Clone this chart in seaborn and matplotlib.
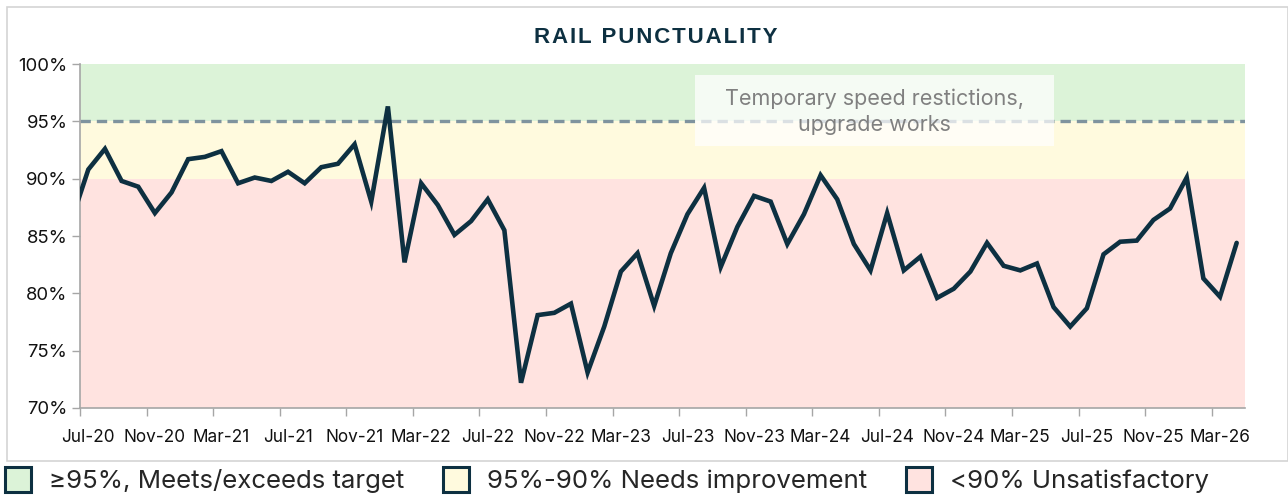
import numpy as np
import pandas as pd
import matplotlib
matplotlib.use("Agg")
import matplotlib.pyplot as plt
from matplotlib.patches import Patch, Rectangle
import seaborn as sns

# monthly punctuality (%), Jun-20 .. Apr-26 (Jun-20 sits left of the axis and is clipped)
start_month = "2020-06"
punctuality = [
    86.4,                                                    # Jun-20
    90.8, 92.6, 89.8, 89.3, 87.0, 88.8,                      # Jul-Dec 20
    91.7, 91.9, 92.4, 89.6, 90.1, 89.8, 90.6, 89.6, 91.0, 91.3, 93.0, 88.0,  # 2021
    96.3, 82.7, 89.6, 87.7, 85.1, 86.3, 88.2, 85.5, 72.2, 78.1, 78.3, 79.1,  # 2022
    73.1, 77.1, 81.9, 83.5, 78.9, 83.5, 86.9, 89.2, 82.3, 85.8, 88.5, 88.0,  # 2023
    84.3, 86.9, 90.3, 88.2, 84.3, 82.0, 87.0, 82.0, 83.2, 79.6, 80.4, 81.9,  # 2024
    84.4, 82.4, 82.0, 82.6, 78.8, 77.1, 78.7, 83.4, 84.5, 84.6, 86.4, 87.4,  # 2025
    90.1, 81.3, 79.7, 84.4,                                  # Jan-Apr 26
]
tick_labels = ["Jul-20", "Nov-20", "Mar-21", "Jul-21", "Nov-21", "Mar-22", "Jul-22",
               "Nov-22", "Mar-23", "Jul-23", "Nov-23", "Mar-24", "Jul-24", "Nov-24",
               "Mar-25", "Jul-25", "Nov-25", "Mar-26"]
target = 95
bands = [(95, 100, "#dcf3d8", "\u226595%, Meets/exceeds target"),
         (90, 95, "#fffade", "95%-90% Needs improvement"),
         (70, 90, "#ffe3e0", "<90% Unsatisfactory")]
note = "Temporary speed restictions,\nupgrade works"

NAVY = "#0d3041"
GREY = "#a6a6a6"

sns.set_theme(style="white")
plt.rcParams["font.family"] = ["Inter", "DejaVu Sans"]

months = pd.period_range(start_month, periods=len(punctuality), freq="M")
first = pd.Period("2020-07", freq="M")
df = pd.DataFrame({
    "pos": [(m - first).n + 0.5 for m in months],   # data sits mid-month
    "value": punctuality,
})

fig = plt.figure(figsize=(12.88, 4.97), dpi=100)
ax = fig.add_axes([0.0621, 0.1791, 0.9045, 0.6921])

for lo, hi, col, _ in bands:
    ax.axhspan(lo, hi, color=col, lw=0, zorder=0)

ax.axhline(target, color="#7f939e", lw=2.4, ls=(0, (3.1, 1.8)), zorder=1)

sns.lineplot(data=df, x="pos", y="value", ax=ax, color=NAVY, lw=3.3, zorder=3,
             solid_joinstyle="miter")

# annotation box (semi-transparent white over the bands and target line)
ax.add_patch(Rectangle((0.528, 0.762), 0.308, 0.206, transform=ax.transAxes,
                       facecolor="white", alpha=0.72, lw=0, zorder=4))
ax.text(0.682, 0.862, note, transform=ax.transAxes, ha="center", va="center",
        fontsize=15.5, color="#808080", linespacing=1.4, zorder=5)

ax.set_xlim(0, 70)
ax.set_ylim(70, 100)
ax.set_yticks(np.arange(70, 101, 5))
ax.set_yticklabels([f"{v}%" for v in range(70, 101, 5)])
ax.set_xticks(np.arange(0, 70, 4))
ax.set_xticklabels([])
ax.set_xticks(np.arange(0, 70, 4) + 0.5, minor=True)
ax.set_xticklabels(tick_labels, minor=True)
ax.tick_params(axis="x", which="major", length=6, width=1, color=GREY, direction="out")
ax.tick_params(axis="x", which="minor", length=0, pad=15, labelsize=12.4, labelcolor="#111111")
ax.tick_params(axis="y", length=6, width=1, color=GREY, direction="out",
               labelsize=13.3, labelcolor="#111111", pad=3)
ax.xaxis.set_ticks_position("bottom")
ax.yaxis.set_ticks_position("left")
ax.set_xlabel("")
ax.set_ylabel("")
for side in ["top", "right"]:
    ax.spines[side].set_visible(False)
for side in ["left", "bottom"]:
    ax.spines[side].set_color(GREY)
    ax.spines[side].set_linewidth(1.2)

# chart frame
fig.add_artist(Rectangle((7 / 1288, 36 / 497), 1 - 7 / 1288, 454 / 497,
                         transform=fig.transFigure, fill=False,
                         edgecolor="#d4d4d4", lw=1.2))

title = "\u200a".join("RAIL PUNCTUALITY")
fig.text(0.509, 0.925, title, ha="center", va="center", fontsize=16,
         fontweight="bold", color=NAVY, family=["Liberation Sans", "DejaVu Sans"])

handles = [Patch(facecolor=col, edgecolor=NAVY, lw=2.2, label=lab) for _, _, col, lab in bands]
fig.legend(handles=handles, loc="center left", bbox_to_anchor=(0.004, 0.034), ncol=3,
           frameon=False, fontsize=18.6, handlelength=1.0, handleheight=1.1,
           handletextpad=0.7, columnspacing=1.5, borderaxespad=0, borderpad=0)

fig.savefig("out.png", dpi=100)
